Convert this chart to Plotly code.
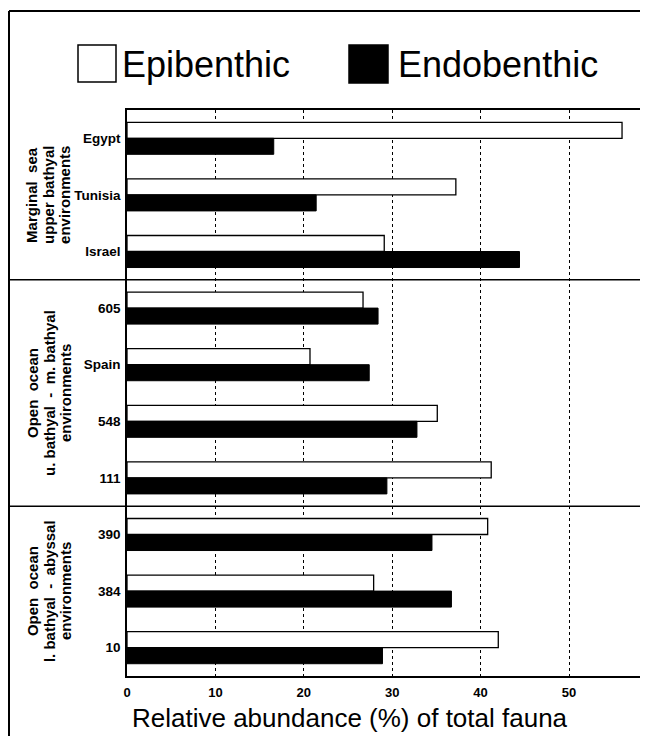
import plotly.graph_objects as go

# ---------------- data ----------------
sites = ["Egypt", "Tunisia", "Israel", "605", "Spain", "548", "111", "390", "384", "10"]
epibenthic = [56.0, 37.2, 29.1, 26.7, 20.7, 35.1, 41.2, 40.8, 27.9, 42.0]
endobenthic = [16.6, 21.4, 44.4, 28.4, 27.4, 32.8, 29.4, 34.5, 36.7, 28.9]
x_ticks = [0, 10, 20, 30, 40, 50]
group_lines = [
    ["Marginal\u00a0 sea", "upper bathyal", "environments"],
    ["Open\u00a0 ocean", "u. bathyal\u00a0 -\u00a0 m. bathyal", "environments"],
    ["Open\u00a0 ocean", "l. bathyal\u00a0 -\u00a0 abyssal", "environments"],
]
group_first = [0, 3, 7]
group_last = [2, 6, 9]
x_title = "Relative abundance (%) of total fauna"
legend_names = ["Epibenthic", "Endobenthic"]

# ---------------- geometry ----------------
OFF = 8                      # page margin around the figure div
W, H = 632, 728
L, R, T = 127 - OFF, 0, 110 - OFF
B = H - (676 - OFF)
PW, PH = W - L - R, H - T - B
XMAX = PW / 8.84


def px(xp):
    """page x pixel -> paper x"""
    return (xp - OFF - L) / PW


def py(yp):
    """page y pixel -> paper y"""
    return (H - B - (yp - OFF)) / PH


SANS = "Liberation Sans, Arial, Helvetica, sans-serif"

fig = go.Figure()
fig.add_trace(go.Bar(
    y=sites, x=epibenthic, orientation="h", name=legend_names[0],
    marker=dict(color="white", line=dict(color="black", width=1.3)),
))
fig.add_trace(go.Bar(
    y=sites, x=endobenthic, orientation="h", name=legend_names[1],
    marker=dict(color="black", line=dict(color="black", width=1.0)),
))

fig.update_layout(
    width=W, height=H,
    margin=dict(l=L, r=R, t=T, b=B, pad=0),
    paper_bgcolor="white", plot_bgcolor="white",
    barmode="group", bargap=0.434, bargroupgap=0,
    showlegend=False,
    font=dict(family=SANS, color="black"),
    xaxis=dict(
        range=[0, XMAX], tickvals=x_ticks, ticktext=[str(v) for v in x_ticks],
        showgrid=True, gridcolor="black", griddash="3px,3px", gridwidth=1.2,
        zeroline=False, showline=True, linecolor="black", linewidth=1.5,
        mirror=True, ticks="outside", ticklen=0,
        tickfont=dict(family=SANS, size=13, weight="bold", color="black"),
        ticklabelstandoff=4,
    ),
    yaxis=dict(
        type="category", autorange="reversed",
        showgrid=False, zeroline=False, showline=True, linecolor="black",
        linewidth=1.5, ticks="", ticklabelstandoff=2,
        tickfont=dict(family=SANS, size=13.5, weight="bold", color="black"),
    ),
)

shapes = []
# outer frame (left and top)
shapes.append(dict(type="line", xref="paper", yref="paper",
                   x0=px(9), x1=px(9), y0=py(11), y1=py(760),
                   line=dict(color="black", width=2)))
shapes.append(dict(type="line", xref="paper", yref="paper",
                   x0=px(9), x1=px(670), y0=py(11), y1=py(11),
                   line=dict(color="black", width=2)))
# group dividers
for g in range(1, len(group_first)):
    yb = group_first[g] - 0.5
    shapes.append(dict(type="line", xref="paper", yref="y",
                       x0=px(9), x1=1.0, y0=yb, y1=yb,
                       line=dict(color="black", width=1.5)))
# legend swatches
shapes.append(dict(type="rect", xref="paper", yref="paper",
                   x0=px(78), x1=px(116), y0=py(45), y1=py(82),
                   fillcolor="white", line=dict(color="black", width=1.5)))
shapes.append(dict(type="rect", xref="paper", yref="paper",
                   x0=px(349), x1=px(388), y0=py(45), y1=py(83),
                   fillcolor="black", line=dict(color="black", width=1.5)))
fig.update_layout(shapes=shapes)

ann = []
ann.append(dict(text=legend_names[0], xref="paper", yref="paper",
                x=px(120), y=py(64), xanchor="left", yanchor="middle",
                showarrow=False, font=dict(family=SANS, size=36, color="black")))
ann.append(dict(text=legend_names[1], xref="paper", yref="paper",
                x=px(396), y=py(64), xanchor="left", yanchor="middle",
                showarrow=False, font=dict(family=SANS, size=36, color="black")))
# group labels (rotated)
line_x = [32, 49, 65]
for g, lines in enumerate(group_lines):
    yc = (group_first[g] + group_last[g]) / 2.0
    for i, t in enumerate(lines):
        ann.append(dict(text=t, xref="paper", yref="y", x=px(line_x[i]), y=yc,
                        xanchor="center", yanchor="middle", textangle=-90,
                        showarrow=False,
                        font=dict(family=SANS, size=15, weight="bold", color="black")))
# x-axis title
ann.append(dict(text=x_title, xref="paper", yref="paper",
                x=px(350), y=py(718), xanchor="center", yanchor="middle",
                showarrow=False, font=dict(family=SANS, size=26, color="black")))
fig.update_layout(annotations=ann)

fig.write_html("out.html")
